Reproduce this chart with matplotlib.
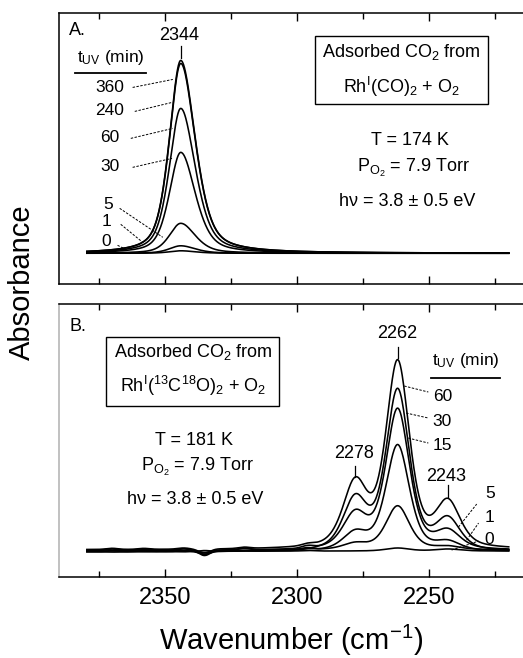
import numpy as np
import matplotlib.pyplot as plt
from matplotlib.patches import Rectangle

plt.rcParams['font.family'] = ['Liberation Sans', 'DejaVu Sans']
plt.rcParams['mathtext.fontset'] = 'custom'
plt.rcParams['mathtext.rm'] = 'Liberation Sans'
plt.rcParams['mathtext.it'] = 'Liberation Sans:italic'
plt.rcParams['mathtext.default'] = 'regular'

# panel A: CO2 from Rh(I)(CO)2 + O2, one band at 2344
A_TIMES = ["0", "1", "5", "30", "60", "240", "360"]
A_CENTER = 2344
A_HEIGHTS = [0.0025, 0.0075, 0.030, 0.101, 0.145, 0.190, 0.193]
A_HW_HIGH = 5.1     # half width on the high-wavenumber side
A_HW_LOW = 6.5      # half width on the low-wavenumber side

# panel B: CO2 from Rh(I)(13C18O)2 + O2, three bands
B_TIMES = ["0", "1", "5", "15", "30", "60"]
B_CENTERS = [2278, 2262, 2243]
B_HW = [5.5, 5.3, 5.5]
B_AMP_2278 = [0.000, 0.006, 0.017, 0.034, 0.050, 0.063]
B_AMP_2262 = [0.003, 0.044, 0.106, 0.140, 0.160, 0.185]
B_AMP_2243 = [0.002, 0.003, 0.008, 0.017, 0.030, 0.044]

# small baseline wiggles seen in panel B
B_WIGGLE_POS = [2370, 2358, 2343, 2335, 2320, 2296]
B_WIGGLE_AMP = [0.0012, 0.0010, 0.0012, -0.0045, 0.0014, 0.0018]
B_WIGGLE_SCALE = [0.3, 1.0, 0.6, 1.2, -0.2, 0.9]
B_OFFSET = [0.0000, 0.0009, -0.0007, 0.0004, -0.0011, 0.0013]

ETA = 0.5
wn = np.linspace(2379.5, 2220, 900)


def band(x, c, amp, w_high, w_low):
    w = np.where(x >= c, w_high, w_low)
    r = ((x - c) / w) ** 2
    return amp * (ETA / (1 + r) + (1 - ETA) * np.exp(-np.log(2) * r))


fig = plt.figure(figsize=(5.23, 6.58), dpi=100)
axA = fig.add_axes([0.113, 0.568, 0.887, 0.413])
axB = fig.add_axes([0.113, 0.123, 0.887, 0.415])

for ax in (axA, axB):
    ax.set_xlim(2390, 2214.6)
    ax.set_xticks([2350, 2300, 2250])
    ax.set_xticks([2375, 2325, 2275, 2225], minor=True)
    ax.tick_params(axis='x', which='both', direction='in', top=True,
                   bottom=True, width=1.0, labelsize=17, pad=7)
    ax.tick_params(axis='x', which='major', length=6)
    ax.tick_params(axis='x', which='minor', length=4)
    ax.set_yticks([])
    ax.spines['right'].set_visible(False)
    for s in ('left', 'top', 'bottom'):
        ax.spines[s].set_linewidth(1.1)
axA.tick_params(axis='x', labelbottom=False)
axB.spines['left'].set_color('#b0b0b0')

axA.set_ylim(-0.031, 0.241)
axB.set_ylim(-0.026, 0.247)

# --- panel A curves
for h in A_HEIGHTS:
    axA.plot(wn, band(wn, A_CENTER, h, A_HW_HIGH, A_HW_LOW), color='black', lw=1.15)

# --- panel B curves
for i in range(len(B_TIMES)):
    y = np.zeros_like(wn) + B_OFFSET[i]
    amps = [B_AMP_2278[i], B_AMP_2262[i], B_AMP_2243[i]]
    for c, a, w in zip(B_CENTERS, amps, B_HW):
        y += band(wn, c, a, w, w)
    for p, a in zip(B_WIGGLE_POS, B_WIGGLE_AMP):
        y += B_WIGGLE_SCALE[i] * a * np.exp(-((wn - p) / 3.0) ** 2)
    axB.plot(wn, y, color='black', lw=1.15)

dash = dict(color='black', lw=0.7, linestyle=(0, (2.5, 1.5)))
fs = 12.5

# --- panel A annotations
axA.text(0.022, 0.934, "A.", transform=axA.transAxes, fontsize=13,
         ha='left', va='center')
axA.text(2344.5, 0.218, "2344", fontsize=13, ha='center', va='center')
axA.plot([2344, 2344], [0.207, 0.195], color='black', lw=0.9)
axA.text(2370.5, 0.196, "t$_{UV}$ (min)", fontsize=fs, ha='center', va='center')
axA.plot([2383.8, 2357.2], [0.180, 0.180], color='black', lw=1.3)
a_lab = [("360", 2370.9, 0.166, 2362.2, 0.166, 2347.0, 0.174),
         ("240", 2370.9, 0.143, 2361.4, 0.142, 2347.3, 0.151),
         ("60", 2370.9, 0.116, 2362.9, 0.115, 2347.0, 0.125),
         ("30", 2370.9, 0.087, 2362.2, 0.086, 2347.3, 0.095),
         ("5", 2371.3, 0.049, 2367.1, 0.045, 2350.8, 0.016),
         ("1", 2372.1, 0.032, 2366.7, 0.029, 2358.4, 0.011),
         ("0", 2372.1, 0.012, 2367.9, 0.008, 2364.1, 0.003)]
for t, tx, ty, x0, y0, x1, y1 in a_lab:
    axA.text(tx, ty, t, fontsize=fs, ha='center', va='center')
    axA.plot([x0, x1], [y0, y1], **dash)

axA.add_patch(Rectangle((2293.4, 0.149), 2228.0 - 2293.4, 0.217 - 0.149,
                        fill=False, edgecolor='black', lw=1.0))
axA.text(2260.6, 0.201, "Adsorbed CO$_2$ from", fontsize=13, ha='center', va='center')
axA.text(2260.6, 0.166, "Rh$^{I}$(CO)$_2$ + O$_2$", fontsize=13, ha='center', va='center')
axA.text(2257.2, 0.113, "T = 174 K", fontsize=13, ha='center', va='center')
axA.text(2256.1, 0.085, "P$_{O_2}$ = 7.9 Torr", fontsize=13, ha='center', va='center')
axA.text(2258.4, 0.052, "hν = 3.8 ± 0.5 eV", fontsize=13, ha='center', va='center')

# --- panel B annotations
axB.text(0.022, 0.916, "B.", transform=axB.transAxes, fontsize=13,
         ha='left', va='center')
axB.add_patch(Rectangle((2372.1, 0.145), 2307.0 - 2372.1, 0.214 - 0.145,
                        fill=False, edgecolor='black', lw=1.0))
axB.text(2339.4, 0.199, "Adsorbed CO$_2$ from", fontsize=13, ha='center', va='center')
axB.text(2339.4, 0.165, "Rh$^{I}$($^{13}$C$^{18}$O)$_2$ + O$_2$", fontsize=13,
         ha='center', va='center')
axB.text(2339.0, 0.111, "T = 181 K", fontsize=13, ha='center', va='center')
axB.text(2337.5, 0.084, "P$_{O_2}$ = 7.9 Torr", fontsize=13, ha='center', va='center')
axB.text(2338.6, 0.052, "hν = 3.8 ± 0.5 eV", fontsize=13, ha='center', va='center')

for t, tx, ty, y0, y1 in [("2262", 2262, 0.218, 0.204, 0.193),
                          ("2278", 2278.5, 0.098, 0.085, 0.074),
                          ("2243", 2243.5, 0.075, 0.066, 0.054)]:
    axB.text(tx, ty, t, fontsize=13, ha='center', va='center')
    axB.plot([float(t), float(t)], [y0, y1], color='black', lw=0.9)

axB.text(2236.3, 0.191, "t$_{UV}$ (min)", fontsize=fs, ha='center', va='center')
axB.plot([2249.2, 2223.4], [0.173, 0.173], color='black', lw=1.3)
b_lab = [("60", 2245.1, 0.155, 2259.5, 0.165, 2250.4, 0.159),
         ("30", 2245.1, 0.130, 2258.8, 0.138, 2250.4, 0.133),
         ("15", 2245.1, 0.106, 2258.0, 0.113, 2250.4, 0.108),
         ("5", 2227.2, 0.058, 2239.0, 0.024, 2232.1, 0.047),
         ("1", 2227.2, 0.034, 2235.9, 0.011, 2231.4, 0.028),
         ("0", 2227.2, 0.012, 2241.6, 0.001, 2231.4, 0.010)]
for t, tx, ty, x0, y0, x1, y1 in b_lab:
    axB.text(tx, ty, t, fontsize=fs, ha='center', va='center')
    axB.plot([x0, x1], [y0, y1], **dash)

fig.text(22 / 523, 0.571, "Absorbance", rotation=90, fontsize=21,
         ha='center', va='center')
fig.text(0.556, 0.027, "Wavenumber (cm$^{-1}$)", fontsize=21,
         ha='center', va='center')

fig.savefig("out.png", dpi=100)
